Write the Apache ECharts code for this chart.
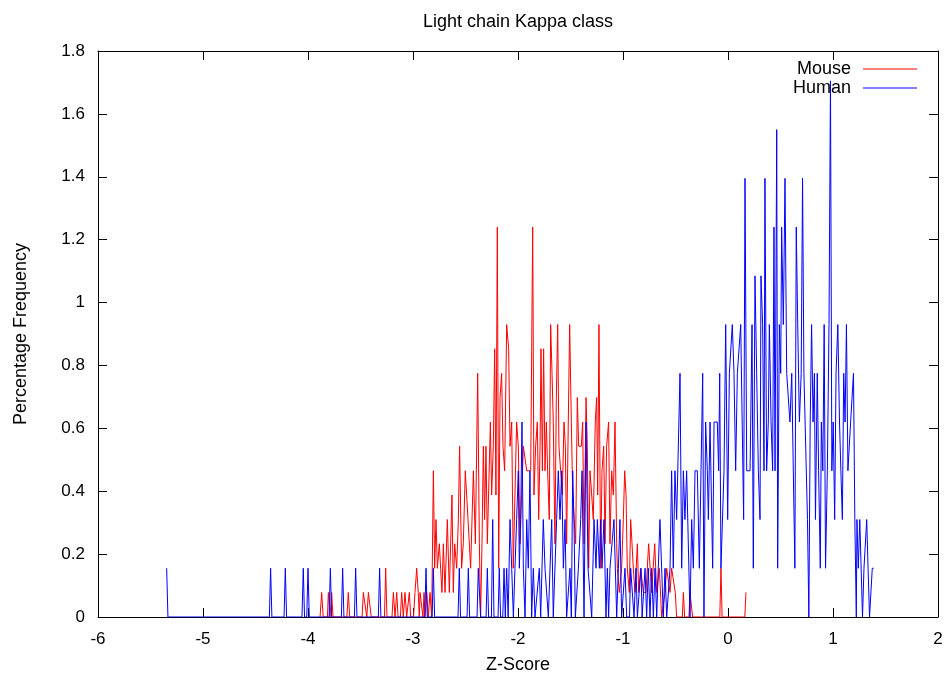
<!DOCTYPE html>
<html>
<head>
<meta charset="utf-8">
<script src="https://cdn.jsdelivr.net/npm/echarts@6/dist/echarts.min.js"></script>
<style>html,body{margin:0;padding:0;background:#fff}#c{width:949px;height:675px}</style>
</head>
<body>
<div id="c"></div>
<script>
const titleText = "Light chain Kappa class";
const xName = "Z-Score";
const yName = "Percentage Frequency";
const seriesNames = ["Mouse", "Human"];
const xTicks = { min: -6, max: 2, interval: 1 };
const yTicks = { min: 0, max: 1.8, interval: 0.2 };

// [z-score, percentage frequency]
const mouse = [
[-3.885,0],[-3.870,0.078],[-3.855,0],[-3.815,0],[-3.806,0.078],[-3.790,0],[-3.775,0.078],[-3.762,0],
[-3.630,0],[-3.616,0.078],[-3.603,0],
[-3.485,0],[-3.473,0.078],[-3.457,0.078],[-3.440,0],[-3.425,0.078],[-3.410,0.078],[-3.398,0],
[-3.272,0],[-3.260,0.155],[-3.248,0],
[-3.200,0],[-3.187,0.078],[-3.171,0],[-3.155,0.078],[-3.142,0],
[-3.120,0],[-3.108,0.078],[-3.092,0],[-3.076,0.078],[-3.060,0],[-3.048,0],[-3.035,0.078],[-3.022,0],
[-2.995,0],[-2.981,0.078],[-2.965,0.155],[-2.950,0.078],[-2.940,0],[-2.933,0.078],[-2.918,0.078],[-2.905,0],[-2.895,0.078],[-2.885,0],[-2.870,0.078],[-2.855,0],[-2.838,0.078],[-2.822,0],
[-2.806,0.465],[-2.794,0.155],[-2.781,0.31],[-2.768,0.155],[-2.749,0.233],[-2.737,0.155],[-2.724,0.078],[-2.711,0.233],[-2.695,0.078],[-2.673,0.31],[-2.654,0.078],[-2.641,0.078],[-2.629,0.388],[-2.616,0.078],[-2.603,0.233],[-2.584,0.155],[-2.568,0.31],[-2.556,0.543],[-2.537,0.155],[-2.521,0.233],[-2.502,0.465],[-2.489,0.388],[-2.476,0.31],[-2.464,0.31],[-2.451,0.155],[-2.425,0.465],[-2.406,0.233],[-2.384,0.775],[-2.368,0.233],[-2.356,0],[-2.343,0.233],[-2.330,0.543],[-2.318,0.31],[-2.305,0.543],[-2.292,0.233],[-2.279,0.233],[-2.263,0.62],[-2.251,0.388],[-2.235,0.543],[-2.222,0.853],[-2.210,0.388],[-2.197,1.24],[-2.184,0.155],[-2.171,0.698],[-2.156,0.775],[-2.143,0.543],[-2.127,0.465],[-2.108,0.93],[-2.089,0.853],
[-2.076,0.543],[-2.060,0.62],[-2.045,0.155],[-2.029,0.388],[-2.013,0.62],[-1.997,0.543],[-1.981,0.233],
[-1.965,0.388],[-1.949,0.543],[-1.933,0.543],[-1.917,0.465],[-1.898,0.465],[-1.879,0.465],[-1.860,1.24],[-1.848,0.388],[-1.832,0.543],[-1.816,0.62],[-1.803,0.31],[-1.790,0.543],[-1.781,0.853],[-1.768,0.465],[-1.756,0.853],[-1.743,0.465],[-1.730,0.62],[-1.718,0.465],[-1.702,0.31],[-1.689,0.93],[-1.676,0.775],[-1.664,0.62],[-1.648,0.233],[-1.635,0.698],[-1.622,0.93],[-1.610,0.543],[-1.594,0.543],[-1.578,0.388],[-1.562,0.62],[-1.549,0.543],[-1.537,0.233],[-1.521,0.62],[-1.508,0.93],[-1.492,0.62],[-1.479,0.388],[-1.464,0.388],[-1.451,0.233],[-1.435,0.698],[-1.422,0.543],[-1.410,0.543],[-1.397,0.543],[-1.384,0.62],[-1.371,0.233],[-1.352,0.698],[-1.340,0.543],[-1.327,0.155],[-1.314,0.465],[-1.298,0.388],[-1.283,0.31],[-1.264,0.62],[-1.251,0.698],[-1.241,0.388],[-1.229,0.93],[-1.213,0.155],[-1.200,0.465],[-1.184,0.543],[-1.171,0.233],[-1.156,0.543],[-1.137,0.62],[-1.124,0.233],[-1.108,0.465],[-1.092,0.388],[-1.076,0.62],[-1.060,0.233],[-1.054,0.155],[-1.035,0.078],[-1.013,0.155],[-0.997,0.31],[-0.984,0.465],[-0.971,0.388],[-0.959,0.155],[-0.940,0.078],[-0.927,0.31],[-0.914,0.233],[-0.902,0.155],[-0.886,0.078],[-0.863,0.233],[-0.851,0.078],[-0.832,0.155],[-0.806,0.078],[-0.781,0.078],[-0.756,0.233],[-0.743,0.233],[-0.727,0.078],[-0.698,0.233],[-0.679,0.078],[-0.654,0.155],[-0.632,0],[-0.600,0.078],[-0.584,0.155],[-0.568,0.155],[-0.552,0.078],[-0.537,0.155],[-0.521,0.155],[-0.502,0.078],[-0.489,0],
[-0.435,0],[-0.425,0.078],[-0.413,0],[-0.372,0],[-0.362,0.078],[-0.349,0.078],[-0.337,0],
[-0.078,0],[-0.067,0.155],[-0.056,0],[0.160,0],[0.171,0.078]
];

const human = [
[-5.346,0.155],[-5.334,0],
[-4.368,0],[-4.356,0.155],[-4.344,0],
[-4.228,0],[-4.216,0.155],[-4.204,0],
[-4.057,0],[-4.045,0.155],[-4.033,0],
[-4.012,0],[-4.000,0.155],[-3.988,0],
[-3.799,0],[-3.787,0.155],[-3.775,0],
[-3.682,0],[-3.670,0.155],[-3.658,0],
[-3.558,0],[-3.546,0.155],[-3.534,0],
[-3.330,0],[-3.318,0.155],[-3.306,0],
[-2.888,0],[-2.876,0.155],[-2.864,0],
[-2.818,0],[-2.806,0.155],[-2.794,0],
[-2.571,0],[-2.559,0.155],[-2.547,0],
[-2.485,0],[-2.473,0.155],[-2.461,0],
[-2.390,0],[-2.378,0.155],[-2.368,0.155],[-2.356,0],
[-2.304,0],[-2.292,0.155],[-2.280,0],
[-2.253,0],[-2.241,0.31],[-2.229,0],
[-2.190,0],[-2.178,0.155],[-2.166,0],
[-2.145,0],[-2.133,0.155],[-2.121,0],[-2.108,0.155],[-2.094,0],
[-2.076,0.31],[-2.060,0.155],[-2.044,0],[-2.029,0.155],[-2.013,0.31],[-1.997,0.465],[-1.987,0.155],[-1.975,0.31],[-1.962,0.62],[-1.949,0.155],[-1.933,0],[-1.917,0.31],[-1.902,0.155],[-1.886,0.465],[-1.870,0],[-1.854,0.155],[-1.838,0],[-1.822,0],[-1.797,0.155],[-1.784,0],[-1.771,0],[-1.759,0.31],[-1.743,0.155],[-1.727,0.155],[-1.711,0],[-1.692,0],[-1.679,0.31],[-1.664,0],[-1.645,0],[-1.632,0.31],[-1.616,0.465],[-1.600,0.31],[-1.584,0.465],[-1.568,0.155],[-1.552,0.31],[-1.537,0],[-1.520,0],[-1.505,0.155],[-1.492,0],[-1.479,0.465],[-1.467,0.31],[-1.454,0],[-1.440,0],[-1.425,0.155],[-1.403,0.31],[-1.390,0.465],[-1.371,0],[-1.352,0.62],[-1.333,0.155],[-1.314,0.155],[-1.298,0],[-1.287,0],[-1.276,0.31],[-1.257,0.155],[-1.244,0.31],[-1.225,0.155],[-1.213,0.31],[-1.200,0.155],[-1.181,0.31],[-1.162,0],[-1.149,0.155],[-1.137,0],[-1.124,0.155],[-1.108,0.155],[-1.086,0.31],[-1.067,0.31],[-1.060,0],[-1.044,0.155],[-1.029,0.31],[-1.013,0],[-0.997,0],[-0.981,0.155],[-0.965,0],[-0.949,0],[-0.938,0],[-0.927,0.155],[-0.908,0.155],[-0.895,0],[-0.886,0],[-0.876,0.155],[-0.863,0],[-0.844,0],[-0.829,0.155],[-0.818,0],[-0.806,0],[-0.790,0.155],[-0.775,0],[-0.759,0.155],[-0.743,0],[-0.727,0.155],[-0.711,0],[-0.695,0.155],[-0.679,0],[-0.664,0.155],[-0.648,0.31],[-0.632,0.31],[-0.616,0],[-0.600,0.155],[-0.584,0],[-0.566,0],[-0.552,0.155],[-0.537,0.465],[-0.521,0.155],[-0.505,0.465],[-0.489,0.31],[-0.473,0.31],[-0.457,0.775],[-0.441,0.155],[-0.425,0.465],[-0.410,0.31],[-0.394,0.465],[-0.378,0.465],[-0.362,0],[-0.346,0.31],[-0.330,0.155],[-0.314,0.465],[-0.292,0.465],[-0.273,0.155],[-0.260,0.155],[-0.241,0.775],[-0.229,0],[-0.213,0.62],[-0.197,0.465],[-0.187,0.31],[-0.171,0.62],[-0.156,0.62],[-0.146,0.155],[-0.133,0.62],[-0.114,0.62],[-0.102,0.62],[-0.089,0.465],[-0.079,0.775],[-0.067,0.155],[-0.051,0.155],[-0.038,0.465],[-0.022,0.93],[-0.003,0.31],[0.013,0.775],[0.029,0.775],[0.041,0.93],[0.057,0.775],[0.073,0.465],[0.089,0.775],[0.105,0.775],[0.121,0.93],[0.137,0.93],[0.149,0.31],[0.162,1.395],[0.178,0.465],[0.194,0.465],[0.210,0.465],[0.229,0.93],[0.241,0.155],[0.257,1.085],[0.273,0.775],[0.289,0.465],[0.305,0.31],[0.314,1.085],[0.330,0.93],[0.343,0.465],[0.352,1.395],[0.368,0.465],[0.384,0.62],[0.394,0.93],[0.410,0.62],[0.425,0.465],[0.438,1.24],[0.448,0.465],[0.464,1.55],[0.473,0.155],[0.489,0.93],[0.502,0.775],[0.511,1.24],[0.527,0.93],[0.543,1.395],[0.559,0.775],[0.575,0.775],[0.590,0.62],[0.607,0.775],[0.624,0.775],[0.637,0.155],[0.650,1.24],[0.664,0.93],[0.680,0.62],[0.697,0.775],[0.710,1.395],[0.723,0.775],[0.740,0.775],[0.757,0.31],[0.770,0],[0.783,0.62],[0.796,0.93],[0.810,0.62],[0.823,0.775],[0.833,0.31],[0.850,0.775],[0.863,0.465],[0.879,0.155],[0.889,0.62],[0.903,0.465],[0.916,0.93],[0.929,0.155],[0.946,0.465],[0.962,0.93],[0.976,1.705],[0.989,0.465],[1.002,0.62],[1.016,0.31],[1.029,0.775],[1.046,0.93],[1.062,0.62],[1.075,0.465],[1.089,0.31],[1.102,0.775],[1.115,0.62],[1.128,0.93],[1.142,0.465],[1.155,0.465],[1.168,0.62],[1.182,0.62],[1.195,0.775],[1.208,0.31],[1.222,0],[1.228,0.31],[1.241,0.155],[1.255,0.31],[1.268,0.31],[1.281,0],[1.295,0.155],[1.308,0.155],[1.321,0.31],[1.334,0.155],[1.348,0],[1.361,0],[1.374,0.155],[1.388,0.155]
];

const FONT = "Liberation Sans";
const txt = { color: "#000", fontFamily: FONT, fontSize: 18 };
const tickTxt = { color: "#000", fontFamily: FONT, fontSize: 17 };
const axisLine = { show: true, onZero: false, lineStyle: { color: "#000", width: 1 } };
const tick = { show: true, inside: true, length: 9, lineStyle: { color: "#000", width: 1 } };

function legendFor(name, color, top) {
  return {
    data: [{ name: name, icon: "rect", itemStyle: { color: color } }],
    right: 32, top: top, orient: "vertical", align: "right",
    itemWidth: 54, itemHeight: 1, itemGap: 0, padding: 0,
    textStyle: Object.assign({}, txt, { padding: [0, 7, 0, 0] })
  };
}

const chart = echarts.init(document.getElementById("c"), null, { renderer: "canvas" });
chart.setOption({
  animation: false,
  backgroundColor: "#fff",
  title: {
    text: titleText, left: 518, top: 13, textAlign: "center", padding: 0,
    textStyle: { color: "#000", fontFamily: FONT, fontSize: 18, fontWeight: "normal" }
  },
  legend: [
    legendFor(seriesNames[0], "#ff0000", 60),
    legendFor(seriesNames[1], "#0000ff", 79)
  ],
  grid: { left: 98, right: 11, top: 51, bottom: 58, containLabel: false, outerBoundsMode: "none" },
  xAxis: [
    { type: "value", position: "bottom", min: xTicks.min, max: xTicks.max, interval: xTicks.interval,
      name: xName, nameLocation: "middle", nameGap: 39, nameTextStyle: txt,
      axisLine: axisLine, axisTick: tick, splitLine: { show: false },
      axisLabel: Object.assign({ margin: 14 }, tickTxt) },
    { type: "value", position: "top", min: xTicks.min, max: xTicks.max, interval: xTicks.interval,
      axisLine: axisLine, axisTick: tick, splitLine: { show: false }, axisLabel: { show: false } }
  ],
  yAxis: [
    { type: "value", position: "left", min: yTicks.min, max: yTicks.max, interval: yTicks.interval,
      name: yName, nameLocation: "middle", nameGap: 68, nameTextStyle: txt,
      axisLine: axisLine, axisTick: tick, splitLine: { show: false },
      axisLabel: Object.assign({ margin: 13 }, tickTxt) },
    { type: "value", position: "right", min: yTicks.min, max: yTicks.max, interval: yTicks.interval,
      axisLine: axisLine, axisTick: tick, splitLine: { show: false }, axisLabel: { show: false } }
  ],
  series: [
    { name: seriesNames[0], type: "line", data: mouse, xAxisIndex: 0, yAxisIndex: 0,
      symbol: "none", showSymbol: false, color: "#ff0000",
      lineStyle: { color: "#ff0000", width: 1 }, z: 2 },
    { name: seriesNames[1], type: "line", data: human, xAxisIndex: 0, yAxisIndex: 0,
      symbol: "none", showSymbol: false, color: "#0000ff",
      lineStyle: { color: "#0000ff", width: 1 }, z: 3 }
  ]
});
</script>
</body>
</html>
